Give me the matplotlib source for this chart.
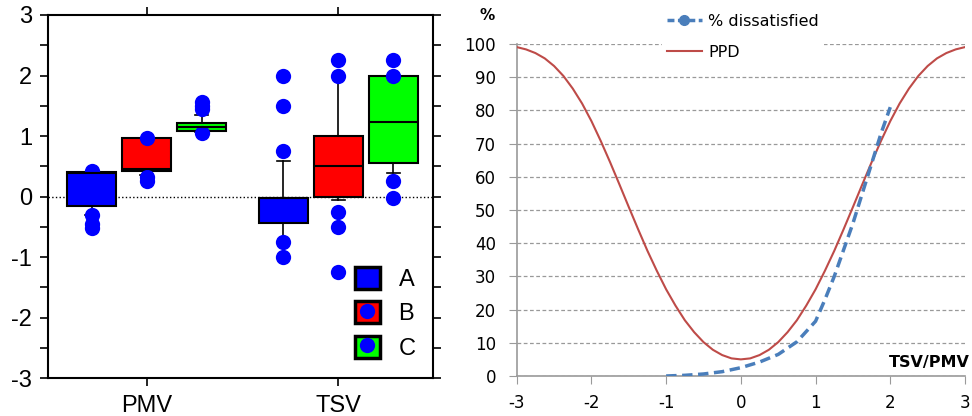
import matplotlib.pyplot as plt
from matplotlib.lines import Line2D
from matplotlib.patches import Patch
from matplotlib.ticker import MultipleLocator

plt.rcParams['font.family'] = ['Liberation Sans', 'DejaVu Sans']
plt.rcParams['axes.unicode_minus'] = False

# ---- left panel: box plots ----
groups = ['PMV', 'TSV']
series = ['A', 'B', 'C']
box_colors = ['#0000ff', '#ff0000', '#00ff00']
offsets = [-0.287, 0.0, 0.287]

# values per series: [PMV, TSV]
q1 = {'A': [-0.15, -0.43], 'B': [0.43, 0.0], 'C': [1.08, 0.55]}
med = {'A': [0.39, -0.02], 'B': [0.45, 0.5], 'C': [1.15, 1.24]}
q3 = {'A': [0.40, -0.02], 'B': [0.97, 1.0], 'C': [1.21, 2.0]}
whislo = {'A': [-0.30, -0.75], 'B': [0.35, -0.05], 'C': [1.07, 0.39]}
whishi = {'A': [0.40, 0.58], 'B': [0.97, 2.0], 'C': [1.35, 2.0]}
fliers = {'A': [[0.42, 0.38, -0.30, -0.45, -0.52], [2.0, 1.5, 0.75, -0.75, -1.0]],
          'B': [[0.97, 0.32, 0.26], [2.25, 2.0, -0.25, -0.5, -1.25]],
          'C': [[1.57, 1.5, 1.44, 1.05], [2.25, 2.0, 0.25, -0.02]]}

# ---- right panel: PPD curves ----
ppd_x = [-3, -2.875, -2.75, -2.625, -2.5, -2.375, -2.25, -2.125, -2, -1.875, -1.75,
         -1.625, -1.5, -1.375, -1.25, -1.125, -1, -0.875, -0.75, -0.625, -0.5, -0.375,
         -0.25, -0.125, 0, 0.125, 0.25, 0.375, 0.5, 0.625, 0.75, 0.875, 1, 1.125, 1.25,
         1.375, 1.5, 1.625, 1.75, 1.875, 2, 2.125, 2.25, 2.375, 2.5, 2.625, 2.75, 2.875, 3]
ppd = [99.1, 98.4, 97.3, 95.7, 93.4, 90.4, 86.6, 82.1, 76.8, 70.8, 64.4,
       57.7, 50.9, 44.2, 37.7, 31.7, 26.1, 21.2, 16.8, 13.2, 10.2, 7.9,
       6.3, 5.3, 5.0, 5.3, 6.3, 7.9, 10.2, 13.2, 16.8, 21.2, 26.1, 31.7, 37.7,
       44.2, 50.9, 57.7, 64.4, 70.8, 76.8, 82.1, 86.6, 90.4, 93.4, 95.7, 97.3, 98.4, 99.1]
dis_x = [-1, -0.75, -0.5, -0.25, 0, 0.25, 0.5, 0.75, 1, 1.125, 1.25, 1.375, 1.5,
         1.625, 1.75, 1.875, 2]
dis = [0, 0.2, 0.6, 1.3, 2.5, 4.2, 6.5, 10.3, 16.5, 23, 30, 38, 46, 55, 64, 73, 81]

fig = plt.figure(figsize=(9.72, 4.16), dpi=100)

ax = fig.add_axes([0.049, 0.091, 0.3965, 0.873])
for i, s in enumerate(series):
    stats = []
    for g in range(2):
        stats.append(dict(q1=q1[s][g], med=med[s][g], q3=q3[s][g],
                          whislo=whislo[s][g], whishi=whishi[s][g], fliers=fliers[s][g]))
    pos = [g + 1 + offsets[i] for g in range(2)]
    ax.bxp(stats, positions=pos, widths=0.255, patch_artist=True, capwidths=0.07,
           boxprops=dict(facecolor=box_colors[i], edgecolor='black', linewidth=1.5),
           medianprops=dict(color='black', linewidth=1.5),
           whiskerprops=dict(color='black', linewidth=1.2),
           capprops=dict(color='black', linewidth=1.2),
           flierprops=dict(marker='o', markerfacecolor='#0000ff', markeredgecolor='none',
                           markersize=11),
           manage_ticks=False)
ax.axhline(0, color='black', linestyle=':', linewidth=1, zorder=0.5)
ax.set_xlim(0.484, 2.494)
ax.set_ylim(-3, 3)
ax.set_xticks([1, 2])
ax.set_xticklabels(groups)
ax.yaxis.set_major_locator(MultipleLocator(1))
ax.yaxis.set_minor_locator(MultipleLocator(0.5))
ax.tick_params(axis='both', which='both', direction='out', length=6, width=1.2,
               labelsize=17, top=True, right=True)
ax.tick_params(axis='x', pad=6)
ax.tick_params(axis='y', pad=5)
for sp in ax.spines.values():
    sp.set_linewidth(1.5)

dot = dict(marker='o', color='none', markerfacecolor='#0000ff',
           markeredgecolor='none', markersize=11)
leg_handles = [Patch(facecolor=box_colors[0], edgecolor='black', linewidth=2.5),
               (Patch(facecolor=box_colors[1], edgecolor='black', linewidth=2.5),
                Line2D([], [], **dot)),
               (Patch(facecolor=box_colors[2], edgecolor='black', linewidth=2.5),
                Line2D([], [], **dot))]
ax.legend(leg_handles, series, loc='lower left', bbox_to_anchor=(0.797, 0.05),
          frameon=False, fontsize=17, handlelength=1.05, handleheight=1.05,
          handletextpad=0.8, labelspacing=0.45, borderpad=0, borderaxespad=0)

# right panel
rfont = ['DejaVu Sans']
ax2 = fig.add_axes([0.5316, 0.0962, 0.4612, 0.7978])
blue = '#4a7ebb'
red = '#be4b48'
ax2.plot(ppd_x, ppd, color=red, linewidth=1.5, zorder=3)
ax2.plot(dis_x, dis, color=blue, linewidth=2.5, linestyle=(0, (3, 1.6)), zorder=3)
ax2.set_xlim(-3, 3)
ax2.set_ylim(0, 100)
ax2.set_xticks(range(-3, 4))
ax2.set_yticks(range(0, 101, 10))
ax2.grid(axis='y', color='#999999', linestyle=(0, (3, 2)), linewidth=0.9)
ax2.set_axisbelow(True)
for side in ['top', 'right']:
    ax2.spines[side].set_visible(False)
for side in ['left', 'bottom']:
    ax2.spines[side].set_color('#9a9a9a')
    ax2.spines[side].set_linewidth(1.2)
ax2.tick_params(axis='both', direction='out', length=6, color='#9a9a9a', labelsize=12)
ax2.tick_params(axis='x', pad=7)
ax2.tick_params(axis='y', pad=9)
for lab in ax2.get_xticklabels() + ax2.get_yticklabels():
    lab.set_family(rfont)
ax2.text(-0.065, 1.087, '%', transform=ax2.transAxes, fontsize=11, fontweight='bold',
         family=rfont, ha='center', va='center')
ax2.text(1.011, 0.027, 'TSV/PMV', transform=ax2.transAxes, fontsize=11.5, fontweight='bold',
         family=rfont, ha='right', va='baseline')
h2 = [Line2D([], [], color=blue, linestyle=(0, (2, 1)), linewidth=2.5, marker='o', markersize=7),
      Line2D([], [], color=red, linewidth=1.5)]
ax2.legend(h2, ['% dissatisfied', 'PPD'], loc='upper left', bbox_to_anchor=(0.324, 1.105),
           frameon=True, facecolor='white', edgecolor='none', framealpha=1,
           prop=dict(family=rfont, size=11.5), handlelength=2.2, handletextpad=0.4,
           borderpad=0.3, labelspacing=1.0, borderaxespad=0, fancybox=False)

fig.savefig('out.png', dpi=100)
